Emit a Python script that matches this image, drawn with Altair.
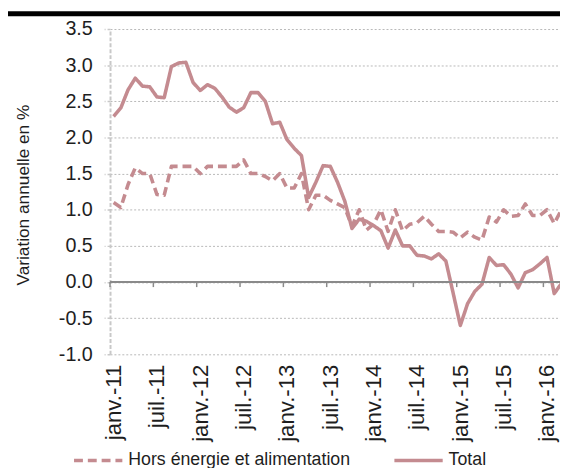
import altair as alt
import pandas as pd

# ---- data ----
tick_labels = ["janv.-11", "juil.-11", "janv.-12", "juil.-12", "janv.-13", "juil.-13",
               "janv.-14", "juil.-14", "janv.-15", "juil.-15", "janv.-16"]

series_names = ["Hors énergie et alimentation", "Total"]

total = [2.29, 2.41, 2.66, 2.82, 2.71, 2.70, 2.56, 2.55, 2.98, 3.03, 3.04, 2.76,
         2.65, 2.73, 2.68, 2.56, 2.42, 2.35, 2.41, 2.62, 2.62, 2.50, 2.19, 2.21,
         1.97, 1.85, 1.75, 1.17, 1.38, 1.61, 1.60, 1.38, 1.12, 0.74, 0.87, 0.84,
         0.78, 0.71, 0.47, 0.72, 0.50, 0.50, 0.37, 0.36, 0.32, 0.39, 0.29, -0.15,
         -0.60, -0.30, -0.13, -0.03, 0.34, 0.23, 0.24, 0.11, -0.08, 0.13, 0.17, 0.25,
         0.34, -0.16, -0.02]

core = [1.10, 1.03, 1.35, 1.58, 1.50, 1.50, 1.21, 1.20, 1.60, 1.60, 1.60, 1.60,
        1.50, 1.60, 1.60, 1.60, 1.60, 1.60, 1.69, 1.50, 1.50, 1.46, 1.40, 1.50,
        1.30, 1.30, 1.50, 1.00, 1.20, 1.20, 1.13, 1.08, 1.03, 0.77, 1.00, 0.72,
        0.80, 1.00, 0.70, 1.00, 0.71, 0.80, 0.82, 0.91, 0.80, 0.70, 0.70, 0.69,
        0.61, 0.69, 0.62, 0.58, 0.90, 0.83, 1.00, 0.91, 0.92, 1.08, 0.92, 0.92,
        1.00, 0.81, 1.00]

y_ticks = [-1.0, -0.5, 0.0, 0.5, 1.0, 1.5, 2.0, 2.5, 3.0, 3.5]

# ---- styling ----
COLOR = "#c48b90"
FONT = "Liberation Sans"
TXT = "#1e1e1e"
W, H = 456.5, 330

months = list(range(len(total)))
df = pd.DataFrame({
    "m": months * 2,
    "v": core + total,
    "serie": [series_names[0]] * len(core) + [series_names[1]] * len(total),
})
ticks_df = pd.DataFrame({"t": [i * 6 - 0.5 for i in range(len(tick_labels))],
                         "y0": [0.0] * len(tick_labels),
                         "y1": [-0.07] * len(tick_labels)})

label_js = "[" + ",".join("'" + s + "'" for s in tick_labels) + "]"

xscale = alt.Scale(domain=[-0.5, 61.8], nice=False, zero=False)
yscale = alt.Scale(domain=[-1.0, 3.5], nice=False, zero=False)

xaxis = alt.Axis(values=[i * 6 for i in range(len(tick_labels))],
                 labelExpr=label_js + "[round(datum.value/6)]",
                 title=None, domain=False, ticks=False, grid=False,
                 labelAngle=270, labelFont=FONT, labelFontSize=22.5,
                 labelColor=TXT, labelPadding=10, labelFlush=False,
                 labelOverlap=False)

yaxis = alt.Axis(values=y_ticks,
                 labelExpr="replace(format(datum.value, '.1f'), '\u2212', '-')",
                 labelOverlap=False, labelFlush=False,
                 title="Variation annuelle en %",
                 titleFont=FONT, titleFontSize=17.5, titleFontWeight="normal",
                 titleColor=TXT, titleX=-82.5, titleY=H / 2 + 3, titleAngle=270,
                 titleAlign="center", titleBaseline="alphabetic",
                 labelFont=FONT, labelFontSize=20, labelColor=TXT,
                 labelPadding=12, tickSize=6, tickColor="#c8c8c8",
                 tickDash=[3, 2], tickWidth=1.5,
                 domainColor="#c8c8c8", domainDash=[4, 2], domainWidth=2,
                 grid=True, gridColor="#b8b8b8", gridDash=[2, 2], gridWidth=1)

lines = alt.Chart(df).mark_line(strokeWidth=3.6, clip=True, color=COLOR,
                                strokeJoin="round").encode(
    x=alt.X("m:Q", scale=xscale, axis=xaxis),
    y=alt.Y("v:Q", scale=yscale, axis=yaxis),
    strokeDash=alt.StrokeDash("serie:N",
                              scale=alt.Scale(domain=series_names, range=[[9, 5], [1, 0]]),
                              legend=alt.Legend(title=None, orient="none", direction="horizontal",
                                                legendX=-38.5, legendY=411,
                                                symbolType="stroke", symbolSize=2401,
                                                symbolStrokeWidth=3.6,
                                                symbolStrokeColor=COLOR,
                                                labelFont=FONT, labelFontSize=18,
                                                labelLimit=0,
                                                labelColor=TXT, labelOffset=4,
                                                columnPadding=36)),
)

zero = alt.Chart(pd.DataFrame({"z": [0.0]})).mark_rule(color="#8a8a8a", strokeWidth=2).encode(
    y=alt.Y("z:Q", scale=yscale, axis=yaxis)
)

xticks = alt.Chart(ticks_df).mark_rule(color="#8a8a8a", strokeWidth=1.5).encode(
    x=alt.X("t:Q", scale=xscale, axis=xaxis),
    y=alt.Y("y0:Q", scale=yscale, axis=yaxis),
    y2="y1:Q",
)

topbar = alt.Chart(pd.DataFrame({"a": [0]})).mark_rule(color="black", strokeWidth=5).encode(
    x=alt.value(-103.5), x2=alt.value(W), y=alt.value(-15.5)
)

chart = alt.layer(lines, zero, xticks, topbar).properties(
    width=W, height=H,
    autosize=alt.AutoSizeParams(type="none"),
    padding={"left": 103.5, "top": 18, "right": 0, "bottom": 112},
    background="white",
).configure_view(stroke=None).configure_axisY(labelOverlap=False)

chart.save("out.html", embed_options={"renderer": "svg", "actions": False})
